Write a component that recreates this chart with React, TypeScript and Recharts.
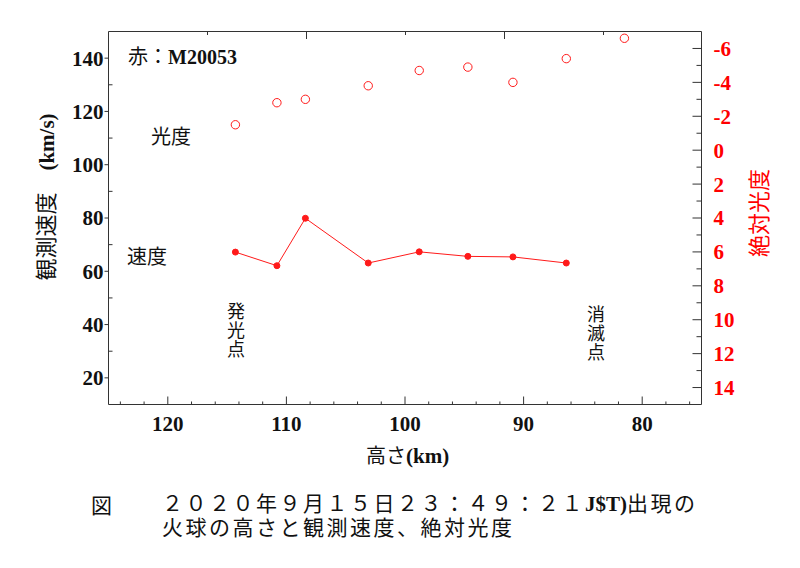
import React from "react";
import {
  ComposedChart,
  Line,
  XAxis,
  YAxis,
} from "recharts";

// 高さ(km) ごとの観測値
const HEIGHTS = [114.3, 110.8, 108.4, 103.1, 98.8, 94.7, 90.9, 86.4, 81.5];
const VELOCITY = [67.2, 62.1, 79.9, 63.1, 67.3, 65.6, 65.4, 63.1];
const MAGNITUDE = [-1.5, -2.8, -3.0, -3.8, -4.7, -4.9, -4.0, -5.4, -6.6];

const HEIGHT_TICKS = [80, 90, 100, 110, 120];
const HEIGHT_MINOR = [76, 78, 82, 84, 86, 88, 92, 94, 96, 98, 102, 104, 106, 108, 112, 114, 116, 118, 122, 124];
const TOP_LONG = [108.33, 91.67];
const TOP_SHORT = [116.67, 100, 83.33];
const SPEED_TICKS = [20, 40, 60, 80, 100, 120, 140];
const SPEED_MINOR = [30, 50, 70, 90, 110, 130];
const MAG_TICKS = [-6, -4, -2, 0, 2, 4, 6, 8, 10, 12, 14];
const MAG_MINOR = [-5, -3, -1, 1, 3, 5, 7, 9, 11, 13];

const H_DOMAIN: [number, number] = [75, 125];
const V_DOMAIN: [number, number] = [10, 150];
const M_DOMAIN: [number, number] = [-7, 15];

const rows = HEIGHTS.map((h, i) => ({
  h,
  v: i < VELOCITY.length ? VELOCITY[i] : null,
  m: MAGNITUDE[i],
}));

// plot frame
const PLOT_LEFT = 108.5;
const PLOT_RIGHT = 701.5;
const PLOT_TOP = 31.5;
const PLOT_BOTTOM = 404.5;
const AXIS_W = 60;
const XAXIS_H = 40;
const TOP_H = 30;

const SERIF = '"Liberation Serif", "Times New Roman", serif';
const JP = '"Noto Sans CJK JP", "Noto Sans CJK SC", sans-serif';
const AXIS = "#333";
const RED = "#ff1a1a";
const THIN = 0.01; // extra axes sit on the frame edge

const tickFont = { fontFamily: SERIF, fontSize: 21, fontWeight: 700, fill: "#111" };

// tick marks only, no labels
const marksOnly = {
  tick: { fill: "none", fontSize: 1 },
  tickFormatter: () => "",
  axisLine: false,
  tickLine: { stroke: AXIS },
  allowDataOverflow: true,
  mirror: true,
  type: "number" as const,
};

// reversed height axis → page x, for the top frame ticks
const heightToX = (h: number) =>
  PLOT_LEFT + ((H_DOMAIN[1] - h) / (H_DOMAIN[1] - H_DOMAIN[0])) * (PLOT_RIGHT - PLOT_LEFT);

function Txt({ x, y, children, style }: { x: number; y: number; children: React.ReactNode; style?: React.CSSProperties }) {
  return (
    <div
      style={{
        position: "absolute",
        left: x,
        top: y,
        fontFamily: JP,
        fontSize: 20,
        lineHeight: "20px",
        whiteSpace: "nowrap",
        color: "#111",
        ...style,
      }}
    >
      {children}
    </div>
  );
}

const verticalStyle: React.CSSProperties = {
  writingMode: "vertical-rl",
  textOrientation: "upright",
  fontSize: 18,
  lineHeight: "20px",
  letterSpacing: 1,
};

// top frame ticks hanging down from the upper edge
function TopTicks() {
  const ticks = [
    ...TOP_LONG.map((h) => ({ h, len: 8 })),
    ...TOP_SHORT.map((h) => ({ h, len: 4 })),
  ];
  return (
    <>
      {ticks.map((t) => (
        <div
          key={t.h}
          style={{
            position: "absolute",
            zIndex: 5,
            left: Math.round(heightToX(t.h)),
            top: 31,
            width: 1,
            height: t.len,
            background: AXIS,
          }}
        />
      ))}
    </>
  );
}

export default function App() {
  return (
    <div style={{ position: "absolute", left: 0, top: 0, width: 800, height: 568, background: "#fff" }}>
      <ComposedChart
        width={800}
        height={568}
        data={rows}
        margin={{
          top: PLOT_TOP - TOP_H,
          right: 800 - PLOT_RIGHT - AXIS_W,
          bottom: 568 - PLOT_BOTTOM - XAXIS_H,
          left: PLOT_LEFT - AXIS_W,
        }}
      >
        {/* bottom axis with labels */}
        <XAxis
          xAxisId="h"
          dataKey="h"
          type="number"
          domain={H_DOMAIN}
          allowDataOverflow
          reversed
          ticks={HEIGHT_TICKS}
          tickLine={false}
          tickSize={6}
          tickMargin={6}
          height={XAXIS_H}
          axisLine={{ stroke: AXIS }}
          tick={tickFont}
        />
        {/* top edge of the frame */}
        <XAxis
          xAxisId="top"
          dataKey="h"
          orientation="top"
          type="number"
          domain={H_DOMAIN}
          allowDataOverflow
          reversed
          ticks={HEIGHT_TICKS}
          height={TOP_H}
          tickLine={false}
          tick={{ fill: "none", fontSize: 1 }}
          tickFormatter={() => ""}
          axisLine={{ stroke: AXIS }}
        />
        {/* inward tick marks on bottom */}
        <XAxis xAxisId="hMajor" dataKey="h" domain={H_DOMAIN} reversed ticks={HEIGHT_TICKS} tickSize={8} height={THIN} {...marksOnly} />
        <XAxis xAxisId="hMinor" dataKey="h" domain={H_DOMAIN} reversed ticks={HEIGHT_MINOR} tickSize={3} height={THIN} {...marksOnly} />

        {/* 観測速度 */}
        <YAxis
          yAxisId="v"
          type="number"
          domain={V_DOMAIN}
          allowDataOverflow
          ticks={SPEED_TICKS}
          width={AXIS_W}
          tickSize={4}
          tickMargin={1}
          axisLine={{ stroke: AXIS }}
          tickLine={{ stroke: AXIS }}
          tick={tickFont}
        />
        <YAxis yAxisId="vMinor" domain={V_DOMAIN} ticks={SPEED_MINOR} tickSize={4} width={THIN} {...marksOnly} />

        {/* 絶対光度 */}
        <YAxis
          yAxisId="m"
          orientation="right"
          type="number"
          domain={M_DOMAIN}
          allowDataOverflow
          reversed
          ticks={MAG_TICKS}
          width={AXIS_W}
          tickLine={false}
          tickSize={6}
          tickMargin={6}
          axisLine={{ stroke: AXIS }}
          tick={{ ...tickFont, fill: "#ff0000" }}
        />
        <YAxis yAxisId="mMajor" orientation="right" domain={M_DOMAIN} reversed ticks={MAG_TICKS} tickSize={9} width={THIN} {...marksOnly} />
        <YAxis yAxisId="mMinor" orientation="right" domain={M_DOMAIN} reversed ticks={MAG_MINOR} tickSize={5} width={THIN} {...marksOnly} />

        <Line
          xAxisId="h"
          yAxisId="v"
          dataKey="v"
          type="linear"
          stroke={RED}
          strokeWidth={1}
          dot={{ r: 3, fill: RED, stroke: RED, strokeWidth: 1 }}
          activeDot={false}
          isAnimationActive={false}
        />
        <Line
          xAxisId="h"
          yAxisId="m"
          dataKey="m"
          type="linear"
          stroke="none"
          dot={{ r: 4.2, fill: "none", stroke: RED, strokeWidth: 1 }}
          activeDot={false}
          isAnimationActive={false}
        />
      </ComposedChart>

      <TopTicks />

      <Txt x={128} y={44} style={{ lineHeight: "24px" }}>
        赤：<span style={{ fontFamily: SERIF, fontWeight: 700, fontSize: 20 }}>M20053</span>
      </Txt>
      <Txt x={151} y={126}>光度</Txt>
      <Txt x={127} y={246}>速度</Txt>
      <Txt x={226} y={302} style={verticalStyle}>発光点</Txt>
      <Txt x={586} y={305} style={verticalStyle}>消滅点</Txt>

      <div
        style={{
          position: "absolute",
          left: 45,
          top: 197,
          transform: "translate(-50%, -50%) rotate(-90deg)",
          fontFamily: JP,
          fontSize: 22,
          lineHeight: "24px",
          whiteSpace: "nowrap",
          color: "#111",
        }}
      >
        観測速度　<span style={{ fontFamily: SERIF, fontWeight: 700, fontSize: 21 }}>(km/s)</span>
      </div>
      <div
        style={{
          position: "absolute",
          left: 757,
          top: 213,
          transform: "translate(-50%, -50%) rotate(-90deg)",
          fontFamily: JP,
          fontSize: 22,
          lineHeight: "24px",
          whiteSpace: "nowrap",
          color: "#ff0000",
        }}
      >
        絶対光度
      </div>

      <Txt x={366} y={445}>
        高さ<span style={{ fontFamily: SERIF, fontWeight: 700, fontSize: 21 }}>(km)</span>
      </Txt>

      <Txt x={91} y={493} style={{ fontSize: 21, lineHeight: "22px" }}>図</Txt>
      <Txt x={162} y={491} style={{ fontSize: 21, lineHeight: "22px", letterSpacing: 2.5 }}>
        ２０２０年９月１５日２３：４９：２１<span style={{ fontFamily: SERIF, fontWeight: 700, letterSpacing: 0 }}>J$T)</span>出現の
      </Txt>
      <Txt x={162} y={515} style={{ fontSize: 21, lineHeight: "22px", letterSpacing: 2.5 }}>
        火球の高さと観測速度、絶対光度
      </Txt>
    </div>
  );
}
